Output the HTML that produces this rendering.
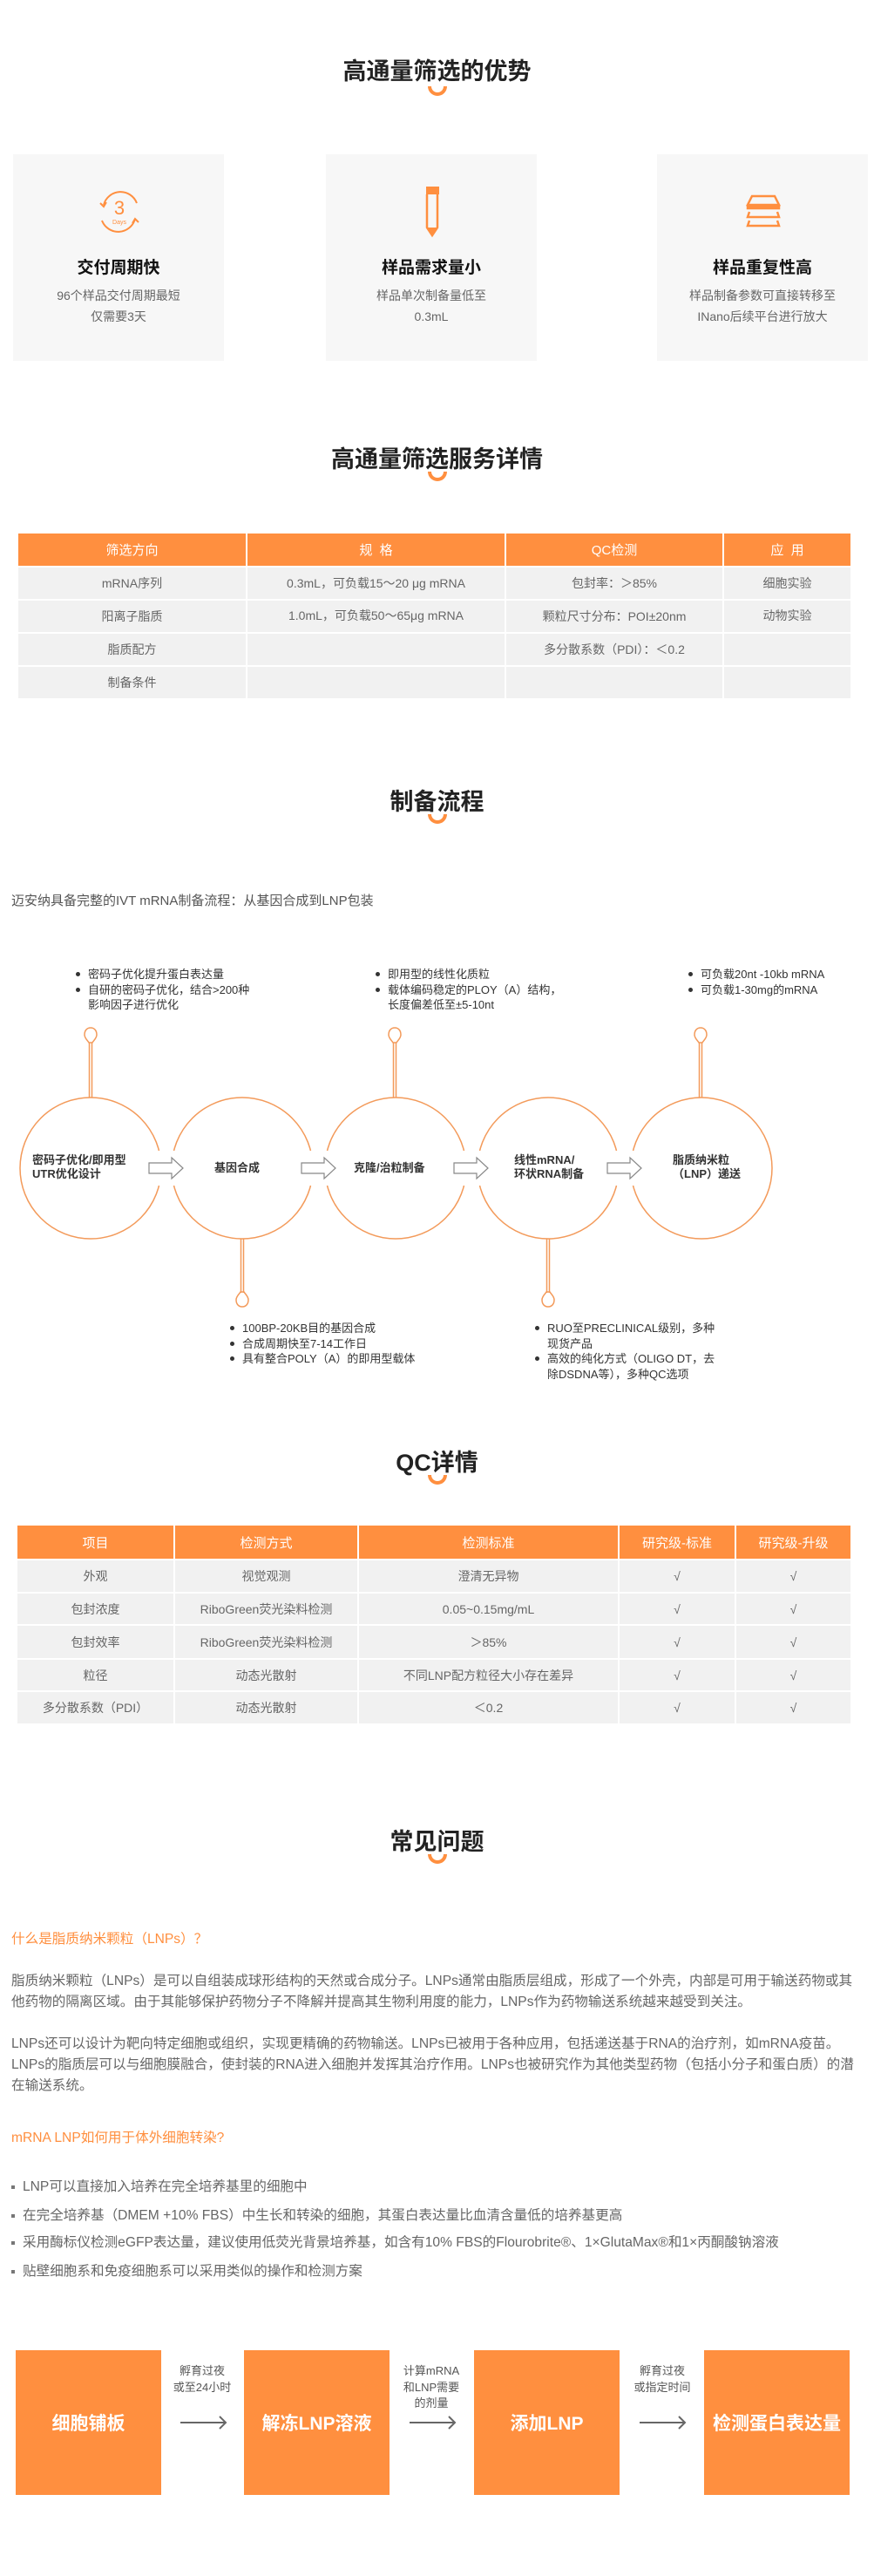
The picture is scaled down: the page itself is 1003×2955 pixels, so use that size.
<!DOCTYPE html>
<html><head><meta charset="utf-8"><style>
*{margin:0;padding:0;box-sizing:border-box}
body{width:1003px;height:2955px;position:relative;background:#fff;font-family:"Liberation Sans","Noto Sans CJK SC",sans-serif;color:#555;overflow:hidden}
.a{position:absolute}
.title{position:absolute;left:0;width:1003px;text-align:center;font-size:27px;font-weight:bold;color:#222;line-height:34px}
.smile{position:absolute;left:491px;width:22px;height:11px;border:4px solid #ff8f3f;border-top:none;border-radius:0 0 12px 12px}
.card{position:absolute;top:177px;width:242px;height:237px;background:#f7f7f7;text-align:center}
.card h3{position:absolute;top:119px;width:100%;font-size:19px;color:#111;line-height:24px}
.card p{position:absolute;top:150px;width:100%;font-size:14px;color:#666;line-height:24px}
.card svg{position:absolute;left:92px;top:36px}
table{position:absolute;border-collapse:collapse;table-layout:fixed}
td{border:2px solid #fff;text-align:center;font-size:14px;color:#666;background:#f1f1f1}
tr.h td{background:#ff8f3f;color:#fff;font-size:15px}
.b{position:absolute;font-size:13px;line-height:17.5px;color:#333}
.b div{position:relative;padding-left:14px}
.b div:before{content:"";position:absolute;left:0;top:6px;width:5px;height:5px;border-radius:50%;background:#333}
.b div.n:before{display:none}
.ct{position:absolute;font-size:13px;line-height:16px;color:#333;font-weight:bold}
.faq{position:absolute;left:13px;font-size:15.6px;line-height:24px;color:#666;white-space:nowrap}
.q{color:#ff8f3f}
.li{position:absolute;left:13px;font-size:15.6px;color:#666;white-space:nowrap}
.li:before{content:"";display:inline-block;width:4px;height:4px;background:#777;margin-right:9px;vertical-align:middle}
.box{position:absolute;top:2696px;height:166px;width:167px;background:#ff8f3f;color:#fff;font-weight:bold;font-size:21px;display:flex;align-items:center;justify-content:center}
.lab{position:absolute;font-size:13px;line-height:18.5px;color:#555;text-align:center;width:80px}
</style></head><body>

<div class="title" style="top:65px">高通量筛选的优势</div>
<div class="smile" style="top:99px"></div>

<div class="card" style="left:15px">
<svg width="60" height="60" viewBox="0 0 60 60"><path d="M12 22 A20 20 0 0 1 50 20" fill="none" stroke="#ff8f3f" stroke-width="2"/><path d="M48 38 A20 20 0 0 1 10 40" fill="none" stroke="#ff8f3f" stroke-width="2"/><path d="M8 20 l4 4 l3-5" fill="none" stroke="#ff8f3f" stroke-width="2"/><path d="M52 42 l-4-4 l-3 5" fill="none" stroke="#ff8f3f" stroke-width="2"/><text x="30" y="33" text-anchor="middle" font-size="22" fill="#ff8f3f" font-family="Liberation Sans">3</text><text x="30" y="44" text-anchor="middle" font-size="7" fill="#ff8f3f" font-family="Liberation Sans">Days</text></svg>
<h3>交付周期快</h3><p>96个样品交付周期最短<br>仅需要3天</p></div>
<div class="card" style="left:374px">
<svg width="60" height="60" viewBox="0 0 60 60"><rect x="23" y="1" width="15" height="9" fill="#ff8f3f"/><path d="M24 10 V48 L30 57 L36 48 V10" fill="none" stroke="#ff8f3f" stroke-width="2.5"/><path d="M25 48 L30 56 L35 48Z" fill="#ff8f3f"/></svg>
<h3>样品需求量小</h3><p>样品单次制备量低至<br>0.3mL</p></div>
<div class="card" style="left:754px">
<svg width="60" height="60" viewBox="0 0 60 60"><path d="M17 12 H43 L48 22 H12Z M12 24 H48 V26 H12Z" fill="none" stroke="#ff8f3f" stroke-width="2.5"/><path d="M14 30 L12 36 H48 L46 30 M14 40 L12 46 H48 L46 40" fill="none" stroke="#ff8f3f" stroke-width="2.5"/></svg>
<h3>样品重复性高</h3><p>样品制备参数可直接转移至<br>INano后续平台进行放大</p></div>

<div class="title" style="top:510px">高通量筛选服务详情</div>
<div class="smile" style="top:541px"></div>
<table style="left:19px;top:610px;width:957px">
<colgroup><col style="width:263px"><col style="width:297px"><col style="width:250px"><col style="width:147px"></colgroup>
<tr class="h" style="height:39px"><td>筛选方向</td><td>规&nbsp;&nbsp;格</td><td>QC检测</td><td>应&nbsp;&nbsp;用</td></tr>
<tr style="height:38px"><td>mRNA序列</td><td>0.3mL，可负载15～20 μg mRNA</td><td>包封率：＞85%</td><td>细胞实验</td></tr>
<tr style="height:38px"><td>阳离子脂质</td><td style="vertical-align:top;padding-top:7px">1.0mL，可负载50～65μg mRNA</td><td>颗粒尺寸分布：POI±20nm</td><td style="vertical-align:top;padding-top:7px">动物实验</td></tr>
<tr style="height:38px"><td>脂质配方</td><td></td><td>多分散系数（PDI）：＜0.2</td><td></td></tr>
<tr style="height:38px"><td>制备条件</td><td></td><td></td><td></td></tr>
</table>

<div class="title" style="top:903px">制备流程</div>
<div class="smile" style="top:934px"></div>
<div class="a" style="left:13px;top:1022px;font-size:15px;color:#555">迈安纳具备完整的IVT mRNA制备流程：从基因合成到LNP包装</div>

<svg class="a" style="left:0;top:1150px" width="1003" height="380" viewBox="0 1150 1003 380">
<g fill="none" stroke="#f39a5a" stroke-width="1.5">
<circle cx="104" cy="1340" r="81"/><circle cx="278" cy="1340" r="81"/><circle cx="454" cy="1340" r="81"/><circle cx="629" cy="1340" r="81"/><circle cx="805" cy="1340" r="81"/>
<path d="M102.5 1196V1259M105.5 1196V1259M451.5 1196V1259M454.5 1196V1259M802.5 1196V1259M805.5 1196V1259"/>
<path d="M104 1179c-5 0-7 4-7 8s4 7 5 9h4c1-2 5-5 5-9s-2-8-7-8z"/>
<path d="M453 1179c-5 0-7 4-7 8s4 7 5 9h4c1-2 5-5 5-9s-2-8-7-8z"/>
<path d="M804 1179c-5 0-7 4-7 8s4 7 5 9h4c1-2 5-5 5-9s-2-8-7-8z"/>
<path d="M276.5 1421V1483M279.5 1421V1483M627.5 1421V1483M630.5 1421V1483"/>
<path d="M278 1499c-5 0-7-4-7-8s4-7 5-9h4c1 2 5 5 5 9s-2 8-7 8z"/>
<path d="M629 1499c-5 0-7-4-7-8s4-7 5-9h4c1 2 5 5 5 9s-2 8-7 8z"/>
</g>
<g fill="#fff" stroke="#888" stroke-width="1.2">
<rect x="168" y="1320" width="44" height="40" stroke="none"/><polygon points="171,1334 197,1334 197,1328 210,1340 197,1352 197,1346 171,1346"/>
<rect x="343" y="1320" width="44" height="40" stroke="none"/><polygon points="346,1334 372,1334 372,1328 385,1340 372,1352 372,1346 346,1346"/>
<rect x="518" y="1320" width="44" height="40" stroke="none"/><polygon points="521,1334 547,1334 547,1328 560,1340 547,1352 547,1346 521,1346"/>
<rect x="694" y="1320" width="44" height="40" stroke="none"/><polygon points="697,1334 723,1334 723,1328 736,1340 723,1352 723,1346 697,1346"/>
</g>
</svg>
<div class="ct" style="left:37px;top:1323px">密码子优化/即用型<br>UTR优化设计</div>
<div class="ct" style="left:246px;top:1332px">基因合成</div>
<div class="ct" style="left:406px;top:1332px">克隆/治粒制备</div>
<div class="ct" style="left:590px;top:1323px">线性mRNA/<br>环状RNA制备</div>
<div class="ct" style="left:772px;top:1323px">脂质纳米粒<br>（LNP）递送</div>

<div class="b" style="left:87px;top:1109px"><div>密码子优化提升蛋白表达量</div><div>自研的密码子优化，结合>200种<br>影响因子进行优化</div></div>
<div class="b" style="left:431px;top:1109px"><div>即用型的线性化质粒</div><div>载体编码稳定的PLOY（A）结构，<br>长度偏差低至±5-10nt</div></div>
<div class="b" style="left:790px;top:1109px"><div>可负载20nt -10kb mRNA</div><div>可负载1-30mg的mRNA</div></div>
<div class="b" style="left:264px;top:1515px"><div>100BP-20KB目的基因合成</div><div>合成周期快至7-14工作日</div><div>具有整合POLY（A）的即用型载体</div></div>
<div class="b" style="left:614px;top:1515px"><div>RUO至PRECLINICAL级别，多种<br>现货产品</div><div>高效的纯化方式（OLIGO DT，去<br>除DSDNA等），多种QC选项</div></div>

<div class="title" style="top:1661px">QC详情</div>
<div class="smile" style="top:1692px"></div>
<table style="left:18px;top:1748px;width:958px">
<colgroup><col style="width:181px"><col style="width:211px"><col style="width:299px"><col style="width:134px"><col style="width:133px"></colgroup>
<tr class="h" style="height:40px"><td>项目</td><td>检测方式</td><td>检测标准</td><td>研究级-标准</td><td>研究级-升级</td></tr>
<tr style="height:38px"><td>外观</td><td>视觉观测</td><td>澄清无异物</td><td>√</td><td>√</td></tr>
<tr style="height:37px"><td>包封浓度</td><td>RiboGreen荧光染料检测</td><td>0.05~0.15mg/mL</td><td>√</td><td>√</td></tr>
<tr style="height:39px"><td>包封效率</td><td>RiboGreen荧光染料检测</td><td>＞85%</td><td>√</td><td>√</td></tr>
<tr style="height:37px"><td>粒径</td><td>动态光散射</td><td>不同LNP配方粒径大小存在差异</td><td>√</td><td>√</td></tr>
<tr style="height:38px"><td>多分散系数（PDI）</td><td>动态光散射</td><td>＜0.2</td><td>√</td><td>√</td></tr>
</table>

<div class="title" style="top:2096px">常见问题</div>
<div class="smile" style="top:2127px"></div>
<div class="faq q" style="top:2213px">什么是脂质纳米颗粒（LNPs）？</div>
<div class="faq" style="top:2261px">脂质纳米颗粒（LNPs）是可以自组装成球形结构的天然或合成分子。LNPs通常由脂质层组成，形成了一个外壳，内部是可用于输送药物或其<br>他药物的隔离区域。由于其能够保护药物分子不降解并提高其生物利用度的能力，LNPs作为药物输送系统越来越受到关注。</div>
<div class="faq" style="top:2333px">LNPs还可以设计为靶向特定细胞或组织，实现更精确的药物输送。LNPs已被用于各种应用，包括递送基于RNA的治疗剂，如mRNA疫苗。<br>LNPs的脂质层可以与细胞膜融合，使封装的RNA进入细胞并发挥其治疗作用。LNPs也被研究作为其他类型药物（包括小分子和蛋白质）的潜<br>在输送系统。</div>
<div class="faq q" style="top:2441px">mRNA LNP如何用于体外细胞转染?</div>
<div class="li" style="top:2496px">LNP可以直接加入培养在完全培养基里的细胞中</div>
<div class="li" style="top:2529px">在完全培养基（DMEM +10% FBS）中生长和转染的细胞，其蛋白表达量比血清含量低的培养基更高</div>
<div class="li" style="top:2560px">采用酶标仪检测eGFP表达量，建议使用低荧光背景培养基，如含有10% FBS的Flourobrite®、1×GlutaMax®和1×丙酮酸钠溶液</div>
<div class="li" style="top:2593px">贴壁细胞系和免疫细胞系可以采用类似的操作和检测方案</div>

<div class="box" style="left:18px">细胞铺板</div>
<div class="box" style="left:280px">解冻LNP溶液</div>
<div class="box" style="left:544px">添加LNP</div>
<div class="box" style="left:808px">检测蛋白表达量</div>
<div class="lab" style="left:192px;top:2711px">孵育过夜<br>或至24小时</div>
<div class="lab" style="left:455px;top:2711px">计算mRNA<br>和LNP需要<br>的剂量</div>
<div class="lab" style="left:720px;top:2711px">孵育过夜<br>或指定时间</div>
<svg class="a" style="left:0;top:2765px" width="1003" height="30"><g fill="none" stroke="#666" stroke-width="2"><path d="M207 14H258M252 7L259 14L252 21"/><path d="M470 14H521M515 7L522 14L515 21"/><path d="M734 14H785M779 7L786 14L779 21"/></g></svg>
</body></html>
